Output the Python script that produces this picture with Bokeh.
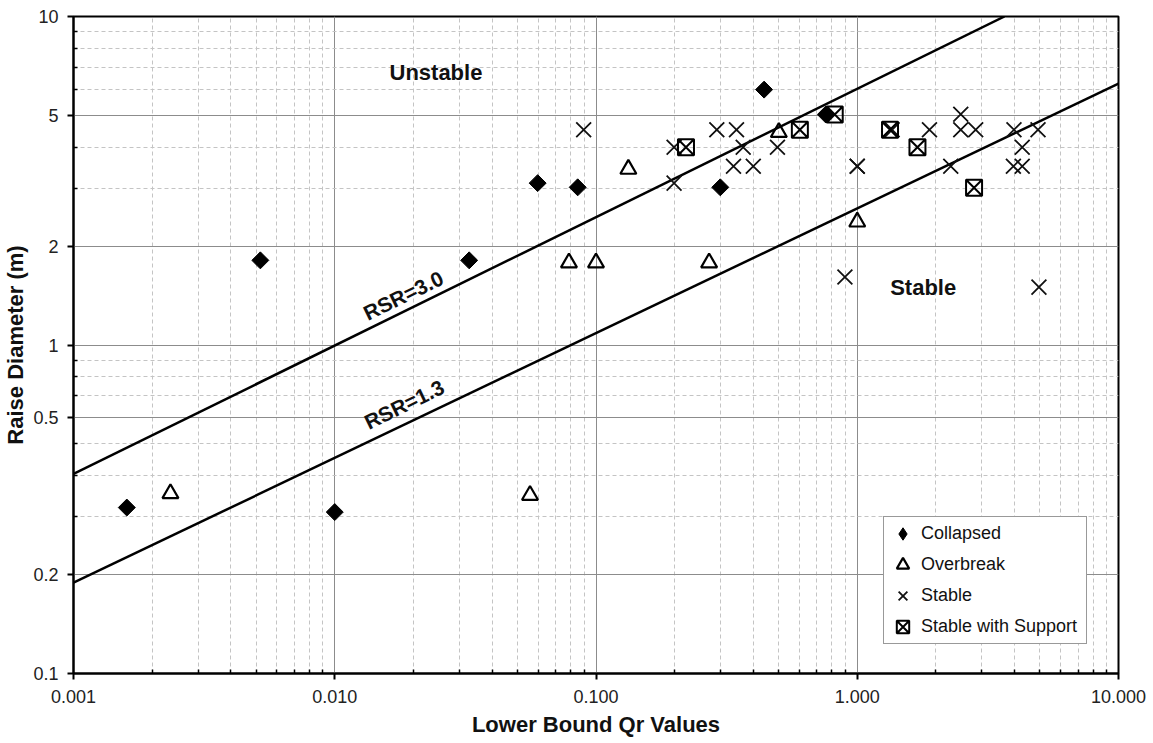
import math
from bokeh.plotting import figure
from bokeh.models import FixedTicker, Legend, LegendItem, Range1d
from bokeh.core.properties import value
from bokeh.embed import file_html
from bokeh.resources import INLINE

# ---------------- data ----------------
collapsed_x = [0.00160, 0.00519, 0.0100, 0.0327, 0.0598, 0.0851, 0.299, 0.440, 0.758]
collapsed_y = [0.32, 1.81, 0.31, 1.81, 3.11, 3.02, 3.02, 5.99, 5.03]

overbreak_x = [0.00235, 0.0559, 0.0788, 0.100, 0.133, 0.271, 0.501, 1.00]
overbreak_y = [0.353, 0.349, 1.78, 1.78, 3.43, 1.78, 4.44, 2.37]

stable_x = [0.0897, 0.199, 0.199, 0.290, 0.345, 0.366, 0.336, 0.400, 0.495,
            1.00, 1.00, 0.897, 1.36, 1.89, 2.49, 2.49, 2.84, 2.28,
            3.98, 4.92, 4.28, 3.96, 4.28, 4.96]
stable_y = [4.52, 4.00, 3.11, 4.52, 4.52, 4.00, 3.50, 3.50, 4.00,
            3.50, 3.50, 1.61, 4.52, 4.52, 5.04, 4.52, 4.52, 3.50,
            4.52, 4.52, 4.00, 3.50, 3.50, 1.50]

support_x = [0.221, 0.603, 0.820, 1.335, 1.70, 2.80]
support_y = [4.00, 4.52, 5.03, 4.52, 4.00, 3.01]

rsr30_x = [0.001, 3.66]
rsr30_y = [0.405, 10.0]
rsr13_x = [0.001, 10.0]
rsr13_y = [0.189, 6.25]

x_major = [0.001, 0.01, 0.1, 1.0, 10.0]
x_labels = ["0.001", "0.010", "0.100", "1.000", "10.000"]
y_major = [0.1, 0.2, 0.6, 1.0, 2.0, 5.0, 10.0]
y_labels = ["0.1", "0.2", "0.5", "1", "2", "5", "10"]
y_minor = [0.3, 0.4, 0.5, 0.7, 0.8, 0.9, 3.0, 4.0, 6.0, 7.0, 8.0, 9.0]
x_minor = [k * 10.0 ** d for d in range(-3, 1) for k in range(2, 10)]

FONT = "Liberation Sans"

p = figure(width=1153, height=743, x_axis_type="log", y_axis_type="log",
           x_range=Range1d(0.001, 10), y_range=Range1d(0.1, 10),
           output_backend="svg", toolbar_location=None,
           min_border_left=72, min_border_right=35, min_border_top=16, min_border_bottom=70,
           background_fill_color="white", border_fill_color="white")

xt = FixedTicker(ticks=x_major, minor_ticks=x_minor)
yt = FixedTicker(ticks=y_major, minor_ticks=y_minor)
p.xaxis.ticker = xt
p.yaxis.ticker = yt
p.xgrid.ticker = xt
p.ygrid.ticker = yt
p.xaxis.major_label_overrides = dict(zip(x_major, x_labels))
p.yaxis.major_label_overrides = dict(zip(y_major, y_labels))

for ax in (p.xaxis[0], p.yaxis[0]):
    ax.axis_line_width = 2
    ax.axis_line_color = "black"
    ax.major_tick_line_color = "black"
    ax.major_tick_line_width = 2
    ax.major_tick_out = 6
    ax.major_tick_in = 0
    ax.minor_tick_line_color = "black"
    ax.minor_tick_line_width = 1.5
    ax.minor_tick_in = 4
    ax.minor_tick_out = 0
    ax.major_label_text_font = FONT
    ax.major_label_text_font_size = "18px"
    ax.major_label_text_color = "#222222"
    ax.axis_label_text_font = FONT
    ax.axis_label_text_font_size = "22px"
    ax.axis_label_text_font_style = "bold"
    ax.axis_label_text_color = "#111111"

p.xaxis.axis_label = "Lower Bound Qr Values"
p.yaxis.axis_label = "Raise Diameter (m)"
p.xaxis.major_label_standoff = 10
p.xaxis.axis_label_standoff = 6
p.yaxis.major_label_standoff = 9
p.yaxis.axis_label_standoff = 2

for g in (p.xgrid[0], p.ygrid[0]):
    g.grid_line_color = "#8c8c8c"
    g.grid_line_width = 1
    g.minor_grid_line_color = "#c4c4c4"
    g.minor_grid_line_width = 1
    g.minor_grid_line_dash = "4 3"

p.outline_line_color = "black"
p.outline_line_width = 2
p.outline_line_alpha = 1

# RSR lines
p.line(rsr30_x, rsr30_y, line_color="black", line_width=2.5)
p.line(rsr13_x, rsr13_y, line_color="black", line_width=2.5)

# markers
r_col = p.scatter(collapsed_x, collapsed_y, marker="square", size=12, angle=math.pi / 4,
                  fill_color="black", line_color="black", line_width=1)
r_over = p.scatter(overbreak_x, overbreak_y, marker="triangle", size=16,
                   fill_color="white", fill_alpha=0, line_color="black", line_width=2.2)
r_stab = p.scatter(stable_x, stable_y, marker="x", size=21,
                   line_color="#111111", line_width=1.8)
r_sup = p.scatter(support_x, support_y, marker="square_x", size=16,
                  fill_color="white", fill_alpha=0, line_color="black", line_width=2)
# legend-only proxy for the collapsed symbol (zero size in the plot area)
r_col_leg = p.scatter(collapsed_x, collapsed_y, marker="diamond", size=0,
                      fill_color="black", line_color="black", line_width=1)

# texts
ang = math.radians(26)
p.text(x=[0.0183], y=[1.415], text=["RSR=3.0"], angle=ang,
       text_font=value(FONT), text_font_size="21px", text_font_style="bold",
       text_align="center", text_baseline="middle", text_color="#111111")
p.text(x=[0.01845], y=[0.659], text=["RSR=1.3"], angle=ang,
       text_font=value(FONT), text_font_size="21px", text_font_style="bold",
       text_align="center", text_baseline="middle", text_color="#111111")
p.text(x=[0.0244], y=[6.75], text=["Unstable"],
       text_font=value(FONT), text_font_size="22px", text_font_style="bold",
       text_align="center", text_baseline="middle", text_color="#111111")
p.text(x=[1.788], y=[1.496], text=["Stable"],
       text_font=value(FONT), text_font_size="22px", text_font_style="bold",
       text_align="center", text_baseline="middle", text_color="#111111")

legend = Legend(items=[
    LegendItem(label="Collapsed", renderers=[r_col_leg], index=0),
    LegendItem(label="Overbreak", renderers=[r_over], index=0),
    LegendItem(label="Stable", renderers=[r_stab], index=0),
    LegendItem(label="Stable with Support", renderers=[r_sup], index=0),
], location=(810, 29))
legend.glyph_width = 35
legend.glyph_height = 31
legend.label_height = 20
legend.spacing = 0
legend.padding = 1
legend.margin = 0
legend.label_standoff = 1
legend.label_width = 164
legend.label_text_font = FONT
legend.label_text_font_size = "18px"
legend.label_text_color = "#111111"
legend.border_line_color = "#333333"
legend.border_line_width = 1.5
legend.background_fill_color = "white"
legend.background_fill_alpha = 1
p.add_layout(legend)

open("out.html", "w").write(file_html(p, INLINE))
